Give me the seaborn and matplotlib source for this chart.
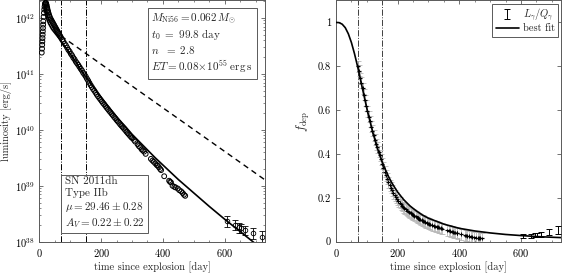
import numpy as np
import matplotlib
matplotlib.use("Agg")
import matplotlib.pyplot as plt
from matplotlib.ticker import MultipleLocator, LogLocator, NullFormatter
import seaborn as sns

# ---- data ----
# left panel: bolometric light curve, log10(L / erg s^-1)
t_early = [8, 9, 9.5, 10, 10.5, 11, 11.5, 12, 12.5, 13, 14, 15, 16, 17, 18, 19, 20, 21,
           22, 23, 24, 25, 26, 27, 28, 29, 30, 32, 34, 36, 38, 40, 42, 44, 46, 48, 50,
           52, 54, 56, 58, 60, 62, 64, 66, 68]
logL_early = [41.38, 41.45, 41.52, 41.58, 41.64, 41.70, 41.76, 41.82, 41.88, 41.94, 42.02,
              42.09, 42.15, 42.20, 42.24, 42.26, 42.27, 42.27, 42.26, 42.24, 42.22, 42.19,
              42.17, 42.14, 42.12, 42.10, 42.08, 42.05, 42.02, 41.99, 41.97, 41.95, 41.93,
              41.91, 41.89, 41.87, 41.85, 41.83, 41.81, 41.79, 41.77, 41.75, 41.73, 41.71,
              41.69, 41.67]

t_mid = [70, 74, 78, 82, 86, 90, 94, 98, 102, 106, 110, 114, 118, 122, 126, 130, 134, 138,
         142, 146, 150, 154, 158, 162, 166, 170, 174, 178, 182, 186, 190, 194, 198, 202,
         206, 210, 214, 218, 222, 226, 230, 234, 238, 242, 246, 250, 254, 258, 262, 266,
         270, 274, 278, 282, 286, 290, 294, 298]
logL_mid = [41.65, 41.61, 41.58, 41.54, 41.51, 41.47, 41.43, 41.40, 41.36, 41.33, 41.29,
            41.26, 41.22, 41.19, 41.16, 41.125, 41.09, 41.06, 41.02, 40.99, 40.955, 40.915,
            40.88, 40.84, 40.80, 40.765, 40.73, 40.70, 40.665, 40.63, 40.60, 40.57,
            40.54, 40.51, 40.48, 40.455, 40.425, 40.395, 40.37, 40.34, 40.315, 40.285,
            40.26, 40.23, 40.205, 40.175, 40.15, 40.125, 40.095, 40.07, 40.045, 40.02,
            39.995, 39.965, 39.94, 39.915, 39.89, 39.865]

t_neb = [301, 306, 310, 318, 322, 326, 331, 335, 339, 344, 361, 366, 370, 375, 380, 383,
         387, 391, 394, 404, 420, 423, 426, 431, 437, 441, 448, 453, 459, 464, 468, 472]
logL_neb = [39.85, 39.82, 39.79, 39.74, 39.71, 39.69, 39.65, 39.63, 39.61, 39.57, 39.48,
            39.45, 39.43, 39.40, 39.37, 39.36, 39.33, 39.30, 39.28, 39.17, 39.09, 39.07,
            39.06, 39.00, 38.98, 38.97, 38.95, 38.92, 38.90, 38.87, 38.84, 38.82]

t_late = [607, 632, 645, 653, 664, 691, 721]
logL_late = [38.37, 38.30, 38.26, 38.245, 38.21, 38.15, 38.09]
frac_err_late = [0.22, 0.2, 0.2, 0.2, 0.2, 0.22, 0.24]

# fitted model and full-trapping line
fit_t = [15, 20, 25, 30, 40, 50, 60, 70, 80, 90, 100, 110, 120, 130, 140, 150, 160, 170,
         180, 190, 200, 220, 240, 260, 280, 300, 325, 350, 375, 400, 425, 450, 475, 500,
         550, 600, 650, 700, 730]
fit_logL = [42.18, 42.06, 41.97, 41.90, 41.80, 41.73, 41.66, 41.59, 41.51, 41.44, 41.36,
            41.28, 41.20, 41.11, 41.03, 40.95, 40.88, 40.80, 40.73, 40.65, 40.58, 40.44,
            40.30, 40.17, 40.05, 39.92, 39.78, 39.64, 39.50, 39.37, 39.24, 39.11, 38.99,
            38.87, 38.63, 38.40, 38.18, 37.96, 37.83]
trap_t = [70, 730]
trap_logL = [41.68, 39.105]

# right panel: deposition fraction
f_mid = [0.80, 0.78, 0.745, 0.725, 0.70, 0.67, 0.645, 0.62, 0.595, 0.57, 0.55, 0.525,
         0.505, 0.485, 0.465, 0.445, 0.43, 0.41, 0.395, 0.375, 0.355, 0.338, 0.318, 0.302,
         0.288, 0.272, 0.258, 0.246, 0.234, 0.222, 0.211, 0.202, 0.193, 0.185, 0.178,
         0.17, 0.164, 0.158, 0.152, 0.147, 0.142, 0.138, 0.134, 0.13, 0.126, 0.122, 0.118,
         0.115, 0.111, 0.108, 0.104, 0.101, 0.098, 0.095, 0.092, 0.089, 0.086, 0.083]
f_neb = [0.081, 0.078, 0.076, 0.072, 0.070, 0.068, 0.066, 0.064, 0.062, 0.060, 0.052,
         0.050, 0.048, 0.046, 0.044, 0.043, 0.041, 0.040, 0.039, 0.034, 0.029, 0.028,
         0.027, 0.025, 0.023, 0.022, 0.020, 0.019, 0.018, 0.017, 0.016, 0.015]
f_late = [0.026, 0.027, 0.029, 0.031, 0.033, 0.044, 0.052]
f_late_err = [0.008, 0.008, 0.009, 0.010, 0.010, 0.015, 0.018]

fdep_t = [0, 10, 20, 30, 40, 50, 60, 70, 80, 90, 100, 110, 120, 130, 140, 150, 160, 170,
          180, 190, 200, 220, 240, 260, 280, 300, 350, 400, 450, 500, 550, 600, 650, 700, 730]
fdep_fit = [1.0, 0.999, 0.992, 0.976, 0.948, 0.908, 0.857, 0.799, 0.735, 0.671, 0.608,
            0.550, 0.495, 0.446, 0.402, 0.363, 0.329, 0.298, 0.271, 0.248, 0.226, 0.191,
            0.163, 0.141, 0.122, 0.107, 0.080, 0.061, 0.049, 0.040, 0.033, 0.028, 0.0235,
            0.0203, 0.0187]

t_marks = [70, 150]

# ---- style ----
sns.set_style("ticks")
plt.rcParams.update({
    "font.family": "cmr10",
    "mathtext.fontset": "cm",
    "axes.formatter.use_mathtext": True,
    "axes.unicode_minus": False,
    "font.size": 7.5,
    "axes.edgecolor": "0.35",
    "axes.linewidth": 0.7,
    "xtick.direction": "in",
    "ytick.direction": "in",
    "xtick.top": True,
    "ytick.right": True,
    "xtick.color": "0.35",
    "ytick.color": "0.35",
    "xtick.labelcolor": "black",
    "ytick.labelcolor": "black",
    "xtick.major.size": 3,
    "ytick.major.size": 3,
    "xtick.minor.size": 1.6,
    "ytick.minor.size": 1.6,
    "xtick.major.width": 0.6,
    "ytick.major.width": 0.6,
    "xtick.minor.width": 0.5,
    "ytick.minor.width": 0.5,
    "xtick.labelsize": 7.5,
    "ytick.labelsize": 7.5,
})

fig = plt.figure(figsize=(5.62, 2.75), dpi=100)
ax1 = fig.add_axes([0.0699, 0.1211, 0.4016, 0.8771])
ax2 = fig.add_axes([0.5979, 0.1211, 0.4004, 0.8771])

# ---- left panel ----
L_early = 10 ** np.array(logL_early)
L_mid = 10 ** np.array(logL_mid)
L_neb = 10 ** np.array(logL_neb)
L_late = 10 ** np.array(logL_late)

for tv in t_marks:
    ax1.axvline(tv, color="k", ls="-.", lw=0.7)

circ = dict(marker="o", s=12, facecolor="none", edgecolor="k", linewidth=0.7, zorder=3)
sns.scatterplot(x=t_early, y=L_early, ax=ax1, **circ)
sns.scatterplot(x=t_mid, y=L_mid, ax=ax1, **circ)
sns.scatterplot(x=t_neb, y=L_neb, ax=ax1, **circ)
ax1.errorbar(t_late, L_late, yerr=L_late * np.array(frac_err_late), fmt="o", ms=3.3,
             mfc="none", mec="k", mew=0.6, ecolor="k", elinewidth=0.6, capsize=2,
             capthick=0.6, zorder=3)

sns.lineplot(x=fit_t, y=10 ** np.array(fit_logL), ax=ax1, color="k", lw=1.2, zorder=4)
sns.lineplot(x=trap_t, y=10 ** np.array(trap_logL), ax=ax1, color="k", lw=1.0,
             dashes=False, zorder=4)
ax1.lines[-1].set_dashes((4, 3))

ax1.set_yscale("log")
ax1.set_xlim(0, 730)
ax1.set_ylim(1e38, 2.05e42)
ax1.xaxis.set_major_locator(MultipleLocator(200))
ax1.xaxis.set_minor_locator(MultipleLocator(50))
ax1.yaxis.set_major_locator(LogLocator(base=10, numticks=10))
ax1.yaxis.set_minor_locator(LogLocator(base=10, subs=np.arange(2, 10), numticks=20))
ax1.yaxis.set_minor_formatter(NullFormatter())
ax1.set_xlabel("time since explosion [day]", labelpad=2)
ax1.set_ylabel("luminosity [erg/s]", labelpad=2)

box = dict(boxstyle="square,pad=0.35", fc="white", ec="0.35", lw=0.7)
ax1.text(0.497, 0.955,
         "$M_{\\rm Ni56} = 0.062\\,M_{\\odot}$\n"
         "$t_0\\ =\\ 99.8\\ \\mathrm{day}$\n"
         "$n\\ \\ =\\ 2.8$\n"
         "$ET = 0.08{\\times}10^{55}\\ \\mathrm{erg\\,s}$",
         transform=ax1.transAxes, ha="left", va="top", fontsize=8,
         linespacing=1.15, bbox=box, zorder=6)
ax1.text(0.112, 0.27,
         "SN 2011dh\nType IIb\n$\\mu = 29.46 \\pm 0.28$\n$A_V = 0.22 \\pm 0.22$",
         transform=ax1.transAxes, ha="left", va="top", fontsize=8,
         linespacing=1.2, bbox=box, zorder=6)

# ---- right panel ----
for tv in t_marks:
    ax2.axvline(tv, color="0.25", ls="-.", lw=0.7)

ax2.errorbar(t_mid + t_neb, f_mid + f_neb, yerr=0.025, fmt="none", ecolor="0.72",
             elinewidth=0.6, capsize=1.8, capthick=0.6, zorder=2)
ax2.errorbar(t_mid + t_neb, f_mid + f_neb, yerr=0.008, fmt="_", ms=3.5, mew=0.9,
             color="k", elinewidth=0.7, capsize=0, zorder=3)
data_handle = ax2.errorbar(t_late, f_late, yerr=f_late_err, fmt="none", ecolor="k",
                           elinewidth=0.7, capsize=2, capthick=0.7, zorder=3)

sns.lineplot(x=fdep_t, y=fdep_fit, ax=ax2, color="k", lw=1.2, zorder=4)
fit_handle = ax2.lines[-1]

ax2.set_xlim(0, 730)
ax2.set_ylim(0, 1.1)
ax2.xaxis.set_major_locator(MultipleLocator(200))
ax2.xaxis.set_minor_locator(MultipleLocator(50))
ax2.set_yticks([0, 0.2, 0.4, 0.6, 0.8, 1.0])
ax2.set_yticklabels(["0", "0.2", "0.4", "0.6", "0.8", "1"])
ax2.set_xlabel("time since explosion [day]", labelpad=2)
ax2.set_ylabel("$f_{\\rm dep}$", labelpad=4, fontsize=9)

leg = ax2.legend([data_handle, fit_handle], ["$L_\\gamma/Q_\\gamma$", "best fit"],
                 loc="upper right", fontsize=7.5, frameon=True, fancybox=False,
                 edgecolor="0.35", framealpha=1, borderaxespad=0.3, handlelength=2.2,
                 handletextpad=0.4, borderpad=0.3, labelspacing=0.1)
leg.get_frame().set_linewidth(0.7)

fig.savefig("out.png", dpi=100)
